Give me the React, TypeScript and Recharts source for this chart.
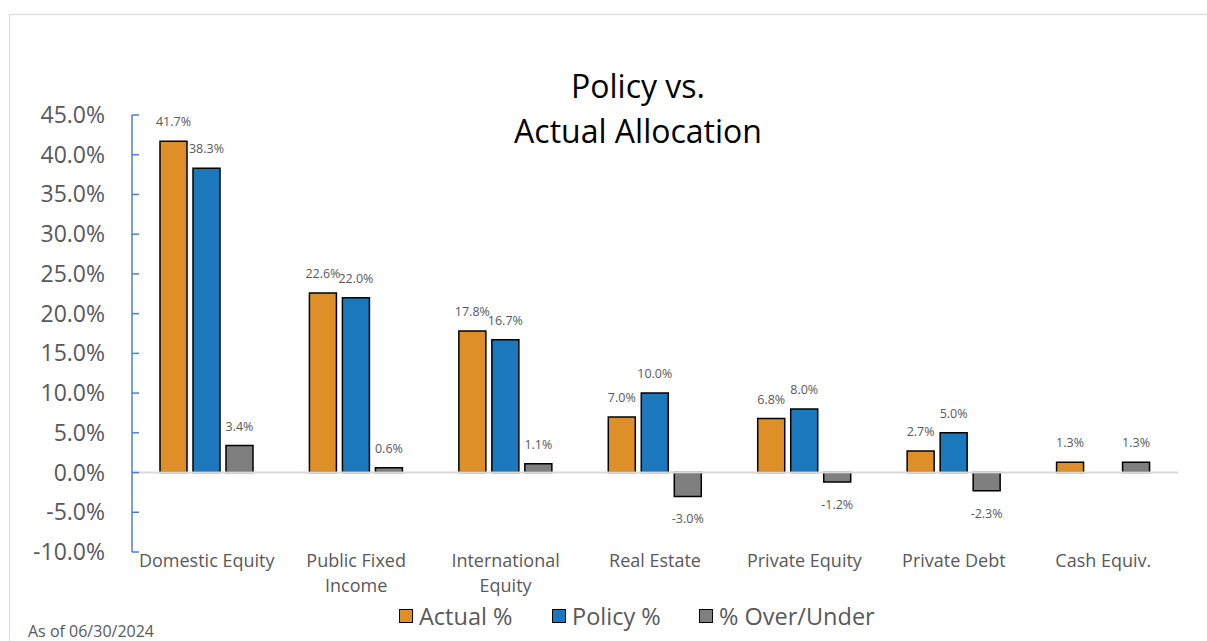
import React from 'react'
import { BarChart, Bar, XAxis, YAxis, ReferenceLine, LabelList } from 'recharts'

const categories = [
    'Domestic Equity',
    'Public Fixed Income',
    'International Equity',
    'Real Estate',
    'Private Equity',
    'Private Debt',
    'Cash Equiv.',
]
const actual = [41.7, 22.6, 17.8, 7.0, 6.8, 2.7, 1.3]
const policy = [38.3, 22.0, 16.7, 10.0, 8.0, 5.0, 0]
const overUnder = [3.4, 0.6, 1.1, -3.0, -1.2, -2.3, 1.3]
const yTicks = [-10, -5, 0, 5, 10, 15, 20, 25, 30, 35, 40, 45]

const series = [
    { key: 'actual', name: 'Actual %', color: '#DF8F27' },
    { key: 'policy', name: 'Policy %', color: '#1B78BD' },
    { key: 'over', name: '% Over/Under', color: '#7F7F7F' },
]

const data = categories.map((c, i) => ({
    name: c,
    actual: actual[i],
    policy: policy[i],
    over: overUnder[i],
}))

const FONT = '"Open Sans", "Noto Sans", sans-serif'
const TEXT = '#595959'

function YTick(props: any) {
    const { x, y, payload } = props
    return (
        <g>
            <line x1={x + 27} x2={x + 34} y1={y} y2={y} stroke="#4F81C7" strokeWidth={1.5} />
            <text x={x} y={y} dy={8} textAnchor="end" fontSize={23} fill={TEXT} fontFamily={FONT}>
                {payload.value.toFixed(1)}%
            </text>
        </g>
    )
}

function XTick(props: any) {
    const { x, y, payload } = props
    const s: string = payload.value
    let lines = [s]
    if (s.length > 16) {
        const k = s.lastIndexOf(' ')
        lines = [s.slice(0, k), s.slice(k + 1)]
    }
    return (
        <g>
            {lines.map((l, i) => (
                <text key={i} x={x} y={y + 7 + i * 25} textAnchor="middle" fontSize={18} fill={TEXT} fontFamily={FONT}>
                    {l}
                </text>
            ))}
        </g>
    )
}

function ValueLabel(props: any) {
    const { x, y, width, height, value } = props
    if (!value) return null
    const top = Math.min(y, y + height)
    const bottom = Math.max(y, y + height)
    const ty = value > 0 ? top - 15 : bottom + 27
    return (
        <text x={x + width / 2} y={ty} textAnchor="middle" fontSize={12.5} fill={TEXT} fontFamily={FONT}>
            {value.toFixed(1)}%
        </text>
    )
}

function LegendBox() {
    const xs = [399, 552, 699]
    return (
        <div style={{ position: 'absolute', top: 603, left: 0, width: 1207, height: 30, fontFamily: FONT }}>
            {series.map((s, i) => (
                <div key={s.key} style={{ position: 'absolute', left: xs[i], top: 0, display: 'flex', alignItems: 'center' }}>
                    <span style={{ display: 'inline-block', width: 12, height: 12, background: s.color, border: '1.5px solid #000', marginRight: 6 }} />
                    <span style={{ fontSize: 23.5, color: TEXT, lineHeight: '26px' }}>{s.name}</span>
                </div>
            ))}
        </div>
    )
}

export default function App() {
    return (
        <div style={{ position: 'absolute', left: 0, top: 0, width: 1207, height: 641, overflow: 'hidden', background: '#fff' }}>
            <div style={{ position: 'absolute', left: 9, top: 14, width: 1220, height: 660, border: '1px solid #D9D9D9' }} />
            <div style={{ position: 'absolute', left: 438, width: 400, top: 63, textAlign: 'center', fontFamily: FONT, fontSize: 32, lineHeight: '45px', color: '#000' }}>
                Policy vs.
                <br />
                Actual Allocation
            </div>
            <div style={{ position: 'absolute', left: 28, top: 622, fontFamily: FONT, fontSize: 16, lineHeight: '19px', color: TEXT }}>As of 06/30/2024</div>
            <div style={{ position: 'absolute', left: 0, top: 0 }}>
                <BarChart
                    width={1207}
                    height={641}
                    data={data}
                    margin={{ top: 115, right: 29, bottom: 39, left: 0 }}
                    barGap={6}
                    barCategoryGap="19%"
                >
                    <XAxis dataKey="name" axisLine={false} tickLine={false} interval={0} height={50} tick={<XTick />} />
                    <YAxis
                        domain={[-10, 45]}
                        ticks={yTicks}
                        width={132}
                        tickSize={0}
                        tickMargin={27}
                        axisLine={{ stroke: '#4F81C7', strokeWidth: 1.5 }}
                        tick={<YTick />}
                        interval={0}
                    />
                    {series.map((s) => (
                        <Bar key={s.key} dataKey={s.key} name={s.name} fill={s.color} stroke="#000" strokeWidth={1.5} barSize={27} isAnimationActive={false}>
                            <LabelList dataKey={s.key} content={<ValueLabel />} />
                        </Bar>
                    ))}
                    <ReferenceLine y={0} stroke="#D9D9D9" strokeWidth={2} />
                </BarChart>
            </div>
            <LegendBox />
        </div>
    )
}
